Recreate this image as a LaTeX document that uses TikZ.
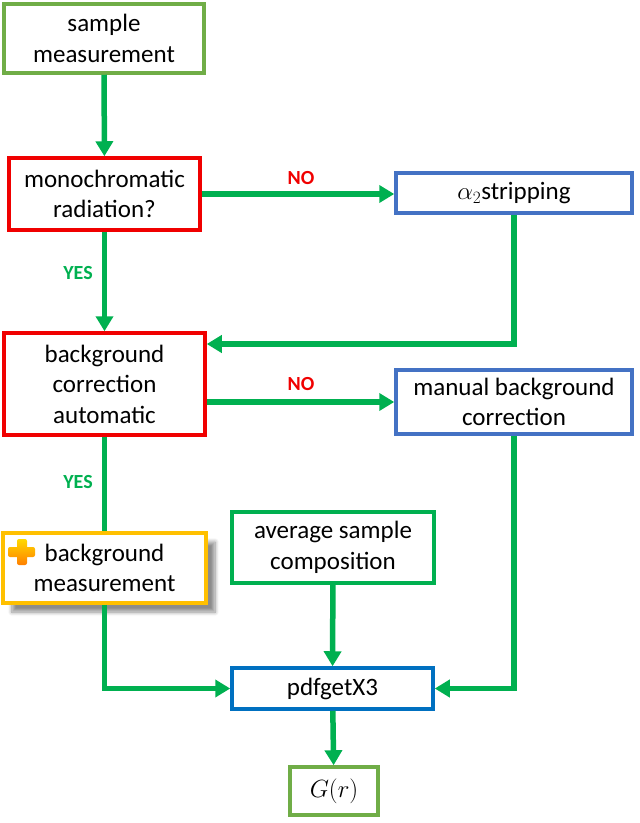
\documentclass[tikz,border=0pt]{standalone}
\usepackage{fontspec}
\setmainfont{Carlito}
\usetikzlibrary{arrows.meta,shadows.blur}
\definecolor{flowgreen}{HTML}{00B050}
\definecolor{boxgreen}{HTML}{70AD47}
\definecolor{boxred}{HTML}{F00000}
\definecolor{boxblue}{HTML}{4472C4}
\definecolor{pdfblue}{HTML}{0070C0}
\definecolor{boxyellow}{HTML}{FFC000}
\tikzset{>={Triangle[length=15pt,width=17pt]},
  box/.style={draw=#1,line width=3.5pt,fill=white,text=black,align=center,inner sep=0pt,
    font=\fontsize{25}{30.5}\selectfont},
  flow/.style={flowgreen,line width=5.5pt},
  yeslabel/.style={text=flowgreen,font=\bfseries\fontsize{20}{24}\selectfont},
  nolabel/.style={text=boxred,font=\bfseries\fontsize{20}{24}\selectfont}}

\begin{document}
\begin{tikzpicture}[x=1pt,y=-1pt]
\useasboundingbox (0,0) rectangle (640,823);
\node[box=boxgreen,minimum width=200pt,minimum height=69pt] (sample) at (104,38.5) {sample\\measurement};
\node[box=boxred,minimum width=191pt,minimum height=72pt] (mono) at (104.5,194) {monochromatic\\radiation?};
\node[box=boxblue,minimum width=236pt,minimum height=40pt] (alpha) at (514,193) {$\alpha_2$stripping};
\node[box=boxred,minimum width=201pt,minimum height=102pt] (bgcorr) at (104.5,384) {background\\correction\\automatic};
\node[box=boxblue,minimum width=236pt,minimum height=64pt] (manual) at (514,402) {manual background\\correction};
\node[box=boxyellow,minimum width=203pt,minimum height=70pt,
  blur shadow={shadow xshift=9pt,shadow yshift=-9pt,shadow blur radius=4pt,shadow opacity=45,shadow blur steps=8}] (bgmeas) at (104.5,568) {background\\measurement};
\node[box=flowgreen,minimum width=202pt,minimum height=71pt] (avg) at (333,547.5) {average sample\\composition};
\node[box=pdfblue,minimum width=201pt,minimum height=41pt] (pdfget) at (332.5,688.5) {pdfgetX3};
\node[box=boxgreen,minimum width=88pt,minimum height=48pt,font=\fontsize{29}{34}\selectfont] (gofr) at (334,791) {$G(r)$};

\shade[top color=boxyellow!60!yellow,bottom color=orange,rounded corners=2pt] (8,547) rectangle (35,557) (17,539) rectangle (27,565);

\node[nolabel] (no1) at (301,178) {NO};
\node[nolabel] (no2) at (301,384) {NO};
\node[yeslabel] (yes1) at (78,273) {YES};
\node[yeslabel] (yes2) at (78,482) {YES};

\draw[flow,->] (sample) -- (mono);
\draw[flow,->] (mono.east) -- (mono.east -| alpha.west);
\draw[flow,->] (mono) -- (bgcorr);
\draw[flow,->] (alpha.south) |- ([yshift=40pt]bgcorr.east);
\draw[flow,->] (bgcorr.east |- manual.west) -- (manual.west);
\draw[flow] (bgcorr) -- (bgmeas);
\draw[flow,->] (bgmeas.south) |- (pdfget.west);
\draw[flow,->] (avg) -- (pdfget);
\draw[flow,->] (manual.south) |- (pdfget.east);
\draw[flow,->] (pdfget) -- (gofr);
\end{tikzpicture}
\end{document}
